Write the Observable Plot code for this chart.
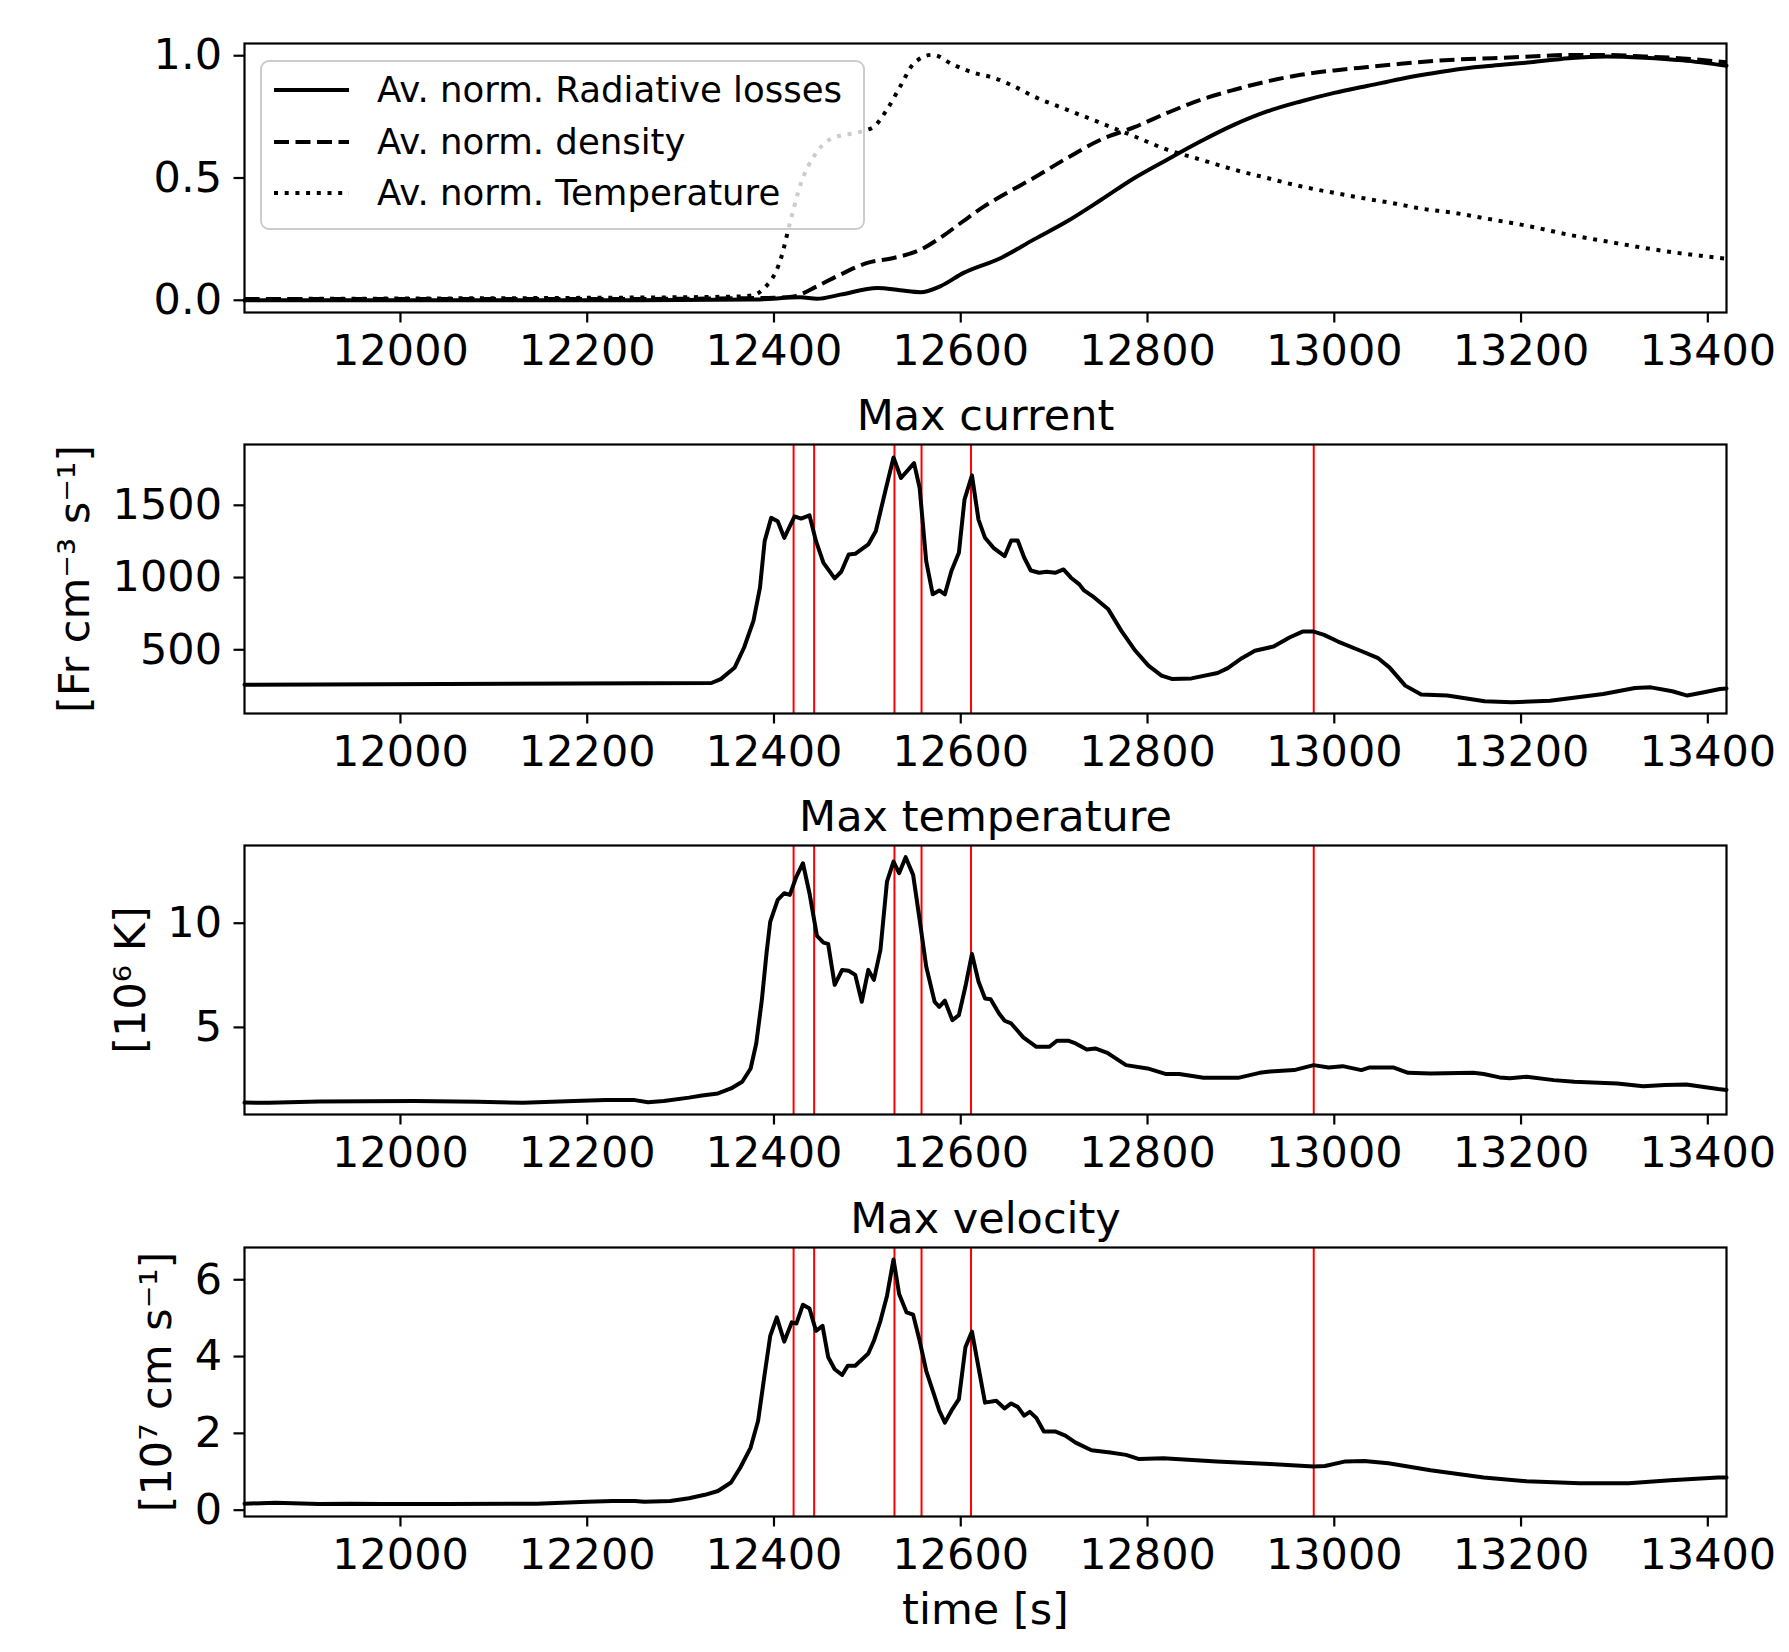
<!DOCTYPE html>
<html><head><meta charset="utf-8">
<script src="https://cdn.jsdelivr.net/npm/d3@7"></script>
<script src="https://cdn.jsdelivr.net/npm/@observablehq/plot@0.6"></script>
<style>
body{margin:0;background:#fff;}
#root{position:relative;width:1789px;height:1652px;background:#fff;font-family:"DejaVu Sans";overflow:hidden;}
#root svg{position:absolute;left:0;overflow:visible;}
</style></head><body><div id="root"></div>
<script>
// ---------- data ----------
const xDomain = [11833, 13420];
const xTicks = [12000, 12200, 12400, 12600, 12800, 13000, 13200, 13400];
const redLines = [12421, 12443, 12529, 12558, 12611, 12978];

const legendLabels = ["Av. norm. Radiative losses", "Av. norm. density", "Av. norm. Temperature"];
const panelTitles = ["Max current", "Max temperature", "Max velocity"];
const yLabels = ["[Fr cm\u207B\u00B3 s\u207B\u00B9]", "[10\u2076 K]", "[10\u2077 cm s\u207B\u00B9]"];
const xLabel = "time [s]";

// panel 1: averaged normalised quantities [time, value]
const lossesSeries = [[11833,0],[12000,0],[12200,0],[12380,0.003],[12428,0.012],[12446,0.006],[12471,0.023],[12511,0.05],[12535,0.041],[12557,0.033],[12578,0.057],[12603,0.112],[12643,0.173],[12678,0.248],[12714,0.323],[12750,0.41],[12786,0.50],[12821,0.575],[12857,0.65],[12893,0.718],[12928,0.772],[12964,0.813],[13000,0.848],[13036,0.877],[13071,0.905],[13100,0.925],[13129,0.943],[13169,0.959],[13210,0.973],[13251,0.99],[13291,0.997],[13332,0.992],[13373,0.981],[13420,0.959]];
const densitySeries = [[11833,0.005],[12000,0.005],[12200,0.005],[12400,0.01],[12421,0.016],[12446,0.057],[12471,0.105],[12500,0.153],[12528,0.173],[12557,0.207],[12578,0.255],[12600,0.316],[12625,0.384],[12643,0.425],[12678,0.50],[12714,0.582],[12750,0.657],[12786,0.708],[12821,0.766],[12857,0.82],[12893,0.861],[12928,0.895],[12964,0.922],[13000,0.94],[13036,0.954],[13071,0.967],[13129,0.984],[13169,0.99],[13210,0.997],[13251,1.003],[13291,1.003],[13332,0.997],[13373,0.989],[13420,0.973]];
const temperatureSeries = [[11833,0.005],[12000,0.007],[12200,0.01],[12360,0.015],[12377,0.02],[12388,0.044],[12407,0.166],[12418,0.33],[12429,0.48],[12443,0.59],[12461,0.66],[12493,0.69],[12507,0.71],[12521,0.78],[12536,0.88],[12550,0.97],[12570,1.004],[12592,0.963],[12614,0.93],[12635,0.91],[12657,0.875],[12678,0.834],[12714,0.779],[12750,0.725],[12786,0.67],[12821,0.616],[12857,0.575],[12893,0.534],[12928,0.50],[12964,0.466],[13000,0.439],[13036,0.414],[13066,0.395],[13088,0.378],[13129,0.357],[13169,0.33],[13210,0.302],[13251,0.268],[13291,0.241],[13332,0.214],[13373,0.191],[13420,0.17]];

// panel 2: max current
const currentSeries = [[11833,258],[12333,270],[12343,297],[12358,378],[12368,516],[12378,700],[12385,930],[12390,1252],[12397,1413],[12404,1390],[12411,1275],[12422,1424],[12429,1408],[12438,1431],[12445,1252],[12453,1102],[12465,994],[12472,1040],[12480,1160],[12487,1164],[12501,1229],[12509,1321],[12520,1620],[12528,1831],[12536,1689],[12550,1792],[12556,1620],[12563,1114],[12570,884],[12577,911],[12583,884],[12590,1045],[12598,1171],[12604,1539],[12612,1707],[12619,1401],[12626,1275],[12635,1206],[12647,1148],[12654,1256],[12661,1256],[12668,1137],[12675,1049],[12684,1033],[12692,1040],[12701,1033],[12710,1056],[12718,999],[12727,953],[12732,911],[12741,872],[12758,780],[12772,631],[12787,493],[12801,390],[12815,321],[12826,298],[12847,302],[12875,339],[12886,373],[12901,442],[12915,493],[12935,523],[12952,585],[12966,626],[12978,626],[12989,603],[13004,557],[13030,488],[13047,442],[13059,378],[13076,252],[13093,190],[13121,183],[13161,144],[13190,137],[13231,148],[13288,194],[13322,236],[13339,240],[13362,213],[13378,183],[13396,206],[13413,229],[13420,232]];

// panel 3: max temperature
const maxTempSeries = [[11833,1.39],[11859,1.38],[11913,1.44],[12015,1.47],[12083,1.43],[12131,1.38],[12186,1.47],[12220,1.51],[12251,1.51],[12265,1.41],[12282,1.47],[12309,1.63],[12323,1.73],[12340,1.83],[12354,2.07],[12366,2.39],[12375,3.03],[12381,4.23],[12387,6.31],[12392,8.56],[12396,10.08],[12404,11.12],[12411,11.44],[12417,11.36],[12424,12.24],[12431,12.88],[12438,11.44],[12446,9.39],[12453,9.07],[12458,9.01],[12465,7.04],[12473,7.76],[12480,7.72],[12487,7.52],[12494,6.23],[12501,7.76],[12507,7.28],[12514,8.72],[12521,12.0],[12528,12.96],[12534,12.4],[12541,13.17],[12549,12.32],[12556,10.16],[12563,7.92],[12572,6.23],[12577,5.99],[12583,6.28],[12591,5.35],[12598,5.59],[12605,6.96],[12612,8.53],[12619,7.2],[12626,6.39],[12632,6.35],[12641,5.67],[12647,5.32],[12654,5.19],[12667,4.52],[12681,4.07],[12695,4.07],[12703,4.36],[12715,4.36],[12723,4.23],[12735,3.94],[12744,3.99],[12757,3.78],[12777,3.19],[12800,3.03],[12820,2.76],[12834,2.76],[12860,2.58],[12897,2.58],[12920,2.82],[12931,2.88],[12957,2.95],[12978,3.19],[12994,3.08],[13009,3.14],[13029,2.95],[13038,3.08],[13063,3.08],[13079,2.82],[13103,2.79],[13149,2.82],[13160,2.76],[13177,2.60],[13188,2.56],[13206,2.63],[13235,2.47],[13257,2.39],[13303,2.31],[13331,2.18],[13354,2.23],[13377,2.26],[13411,2.04],[13420,2.0]];

// panel 4: max velocity
const velocitySeries = [[11833,0.17],[11866,0.19],[11913,0.16],[11947,0.17],[11981,0.16],[12049,0.16],[12146,0.17],[12200,0.22],[12227,0.24],[12251,0.24],[12261,0.22],[12289,0.24],[12309,0.31],[12326,0.40],[12340,0.50],[12354,0.72],[12364,1.11],[12375,1.63],[12383,2.33],[12390,3.54],[12396,4.54],[12403,5.02],[12411,4.39],[12419,4.89],[12424,4.86],[12431,5.35],[12438,5.25],[12445,4.67],[12452,4.80],[12458,3.99],[12465,3.67],[12473,3.52],[12479,3.76],[12487,3.76],[12501,4.08],[12507,4.41],[12514,4.93],[12521,5.58],[12528,6.53],[12534,5.63],[12542,5.15],[12549,5.09],[12556,4.41],[12563,3.63],[12570,3.11],[12577,2.59],[12583,2.28],[12590,2.59],[12598,2.89],[12605,4.24],[12612,4.65],[12619,3.72],[12626,2.80],[12638,2.85],[12647,2.65],[12654,2.78],[12661,2.69],[12668,2.46],[12674,2.56],[12681,2.40],[12689,2.05],[12701,2.05],[12712,1.94],[12723,1.76],[12740,1.56],[12760,1.50],[12777,1.44],[12791,1.33],[12817,1.35],[12874,1.27],[12931,1.20],[12978,1.14],[12990,1.15],[13012,1.27],[13032,1.28],[13058,1.22],[13103,1.04],[13160,0.85],[13206,0.75],[13263,0.70],[13315,0.70],[13360,0.78],[13411,0.85],[13420,0.85]];

const yTicks1 = [0, 0.5, 1.0];
const yTicks2 = [500, 1000, 1500];
const yTicks3 = [5, 10];
const yTicks4 = [0, 2, 4, 6];

// ---------- drawing ----------
const root = document.getElementById("root");
const FONT = "DejaVu Sans";
const DASHED = "15,6.5";
const DOTTED = "4,6.7";

function panel({top, height, marginTop, marginBottom, yDomain, yTicks, yFormat, marks}) {
  const svg = Plot.plot({
    width: 1789, height, marginLeft: 244, marginRight: 63, marginTop, marginBottom,
    style: {fontFamily: FONT, fontSize: "43px", color: "black", background: "transparent", overflow: "visible"},
    x: {domain: xDomain},
    y: {domain: yDomain},
    marks: [
      ...marks,
      Plot.frame({stroke: "black", strokeWidth: 2.2}),
      Plot.axisX({ticks: xTicks, tickSize: 10.5, tickPadding: 11, strokeWidth: 2.2, tickFormat: d => String(d), label: null}),
      Plot.axisY({ticks: yTicks, tickSize: 10.5, tickPadding: 12, strokeWidth: 2.2, tickFormat: yFormat, label: null})
    ]
  });
  svg.style.top = top + "px";
  root.appendChild(svg);
}
const X = d => d[0], Y = d => d[1];
const title = t => Plot.text([t], {text: d => d, frameAnchor: "top", dy: -15, textAnchor: "middle", lineAnchor: "bottom", fill: "black"});
const ylab = (t, dx) => Plot.text([t], {text: d => d, frameAnchor: "left", dx, rotate: -90, textAnchor: "middle", lineAnchor: "middle", fill: "black"});
const reds = Plot.ruleX(redLines, {x: d => d, stroke: "red", strokeWidth: 2});

// Panel 1
panel({top: 0, height: 380, marginTop: 43, marginBottom: 68, yDomain: [-0.05, 1.05], yTicks: yTicks1, yFormat: d3.format(".1f"),
  marks: [
    Plot.line(temperatureSeries, {x: X, y: Y, stroke: "black", strokeWidth: 4, strokeDasharray: DOTTED, strokeLinecap: "butt", curve: "monotone-x"}),
    Plot.line(densitySeries, {x: X, y: Y, stroke: "black", strokeWidth: 4, strokeDasharray: DASHED, strokeLinecap: "butt", curve: "monotone-x"}),
    Plot.line(lossesSeries, {x: X, y: Y, stroke: "black", strokeWidth: 4, curve: "monotone-x"})
  ]});

// Legend overlay for panel 1
(function legend() {
  const s = d3.create("svg").attr("width", 1789).attr("height", 380).style("top", "0px").style("font-family", FONT);
  s.append("rect").attr("x", 261).attr("y", 61).attr("width", 603).attr("height", 168).attr("rx", 8)
    .attr("fill", "white").attr("fill-opacity", 0.8).attr("stroke", "#cccccc").attr("stroke-width", 2);
  const dashes = [null, DASHED, DOTTED];
  const rows = [90, 142, 193];
  legendLabels.forEach((lab, i) => {
    s.append("line").attr("x1", 274).attr("x2", 349).attr("y1", rows[i]).attr("y2", rows[i])
      .attr("stroke", "black").attr("stroke-width", 4).attr("stroke-dasharray", dashes[i]);
    s.append("text").attr("x", 377).attr("y", rows[i]).attr("dy", "0.34em").attr("font-size", "35.5px").attr("fill", "black").text(lab);
  });
  root.appendChild(s.node());
})();

// Panel 2
panel({top: 380, height: 400, marginTop: 64, marginBottom: 67, yDomain: [59, 1921], yTicks: yTicks2, yFormat: d3.format("d"),
  marks: [reds, Plot.line(currentSeries, {x: X, y: Y, stroke: "black", strokeWidth: 4}), title(panelTitles[0]), ylab(yLabels[0], -169)]});

// Panel 3
panel({top: 780, height: 400, marginTop: 65, marginBottom: 66, yDomain: [0.82, 13.73], yTicks: yTicks3, yFormat: d3.format("d"),
  marks: [reds, Plot.line(maxTempSeries, {x: X, y: Y, stroke: "black", strokeWidth: 4}), title(panelTitles[1]), ylab(yLabels[1], -113)]});

// Panel 4
panel({top: 1180, height: 472, marginTop: 67, marginBottom: 136, yDomain: [-0.165, 6.84], yTicks: yTicks4, yFormat: d3.format("d"),
  marks: [reds, Plot.line(velocitySeries, {x: X, y: Y, stroke: "black", strokeWidth: 4}), title(panelTitles[2]), ylab(yLabels[2], -87),
    Plot.text([xLabel], {text: d => d, frameAnchor: "bottom", dy: 107, textAnchor: "middle", lineAnchor: "bottom", fill: "black"})]});
</script></body></html>
